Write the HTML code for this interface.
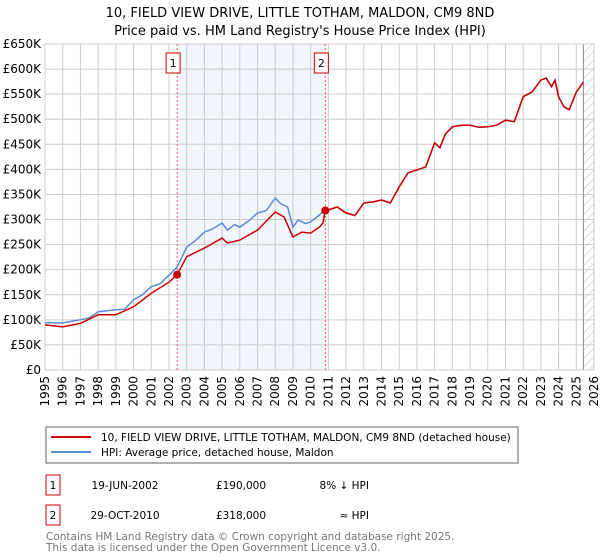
<!DOCTYPE html>
<html><head><meta charset="utf-8"><style>
body{margin:0;background:#fff;font-family:"DejaVu Sans","Liberation Sans",sans-serif;}
svg{display:block}
</style></head><body>
<svg id="c" width="600" height="560" xmlns="http://www.w3.org/2000/svg">
<defs><pattern id="hatch" width="6" height="6" patternUnits="userSpaceOnUse" patternTransform="rotate(45)"><line x1="0" y1="0" x2="0" y2="6" stroke="#bbb" stroke-width="1"/></pattern></defs>
<text x="300" y="17" text-anchor="middle" font-size="13" fill="#000">10, FIELD VIEW DRIVE, LITTLE TOTHAM, MALDON, CM9 8ND</text>
<text x="300" y="35" text-anchor="middle" font-size="13" fill="#000">Price paid vs. HM Land Registry's House Price Index (HPI)</text>
<g id="plot"></g>
<rect x="46" y="427" width="472" height="36" fill="#fff" stroke="#666"/>
<line x1="51" y1="437" x2="91" y2="437" stroke="#cc0000" stroke-width="2"/>
<text x="101" y="441" font-size="10.5">10, FIELD VIEW DRIVE, LITTLE TOTHAM, MALDON, CM9 8ND (detached house)</text>
<line x1="51" y1="452" x2="91" y2="452" stroke="#5b8bd0" stroke-width="2"/>
<text x="101" y="456" font-size="10.5">HPI: Average price, detached house, Maldon</text>
<g>
<rect x="46" y="475" width="14" height="20" fill="#fff" stroke="#cc0000"/>
<text x="53" y="489" font-size="10.5" text-anchor="middle">1</text>
<text x="125" y="489" font-size="10.5" text-anchor="middle">19-JUN-2002</text>
<text x="241" y="489" font-size="10.5" text-anchor="middle">£190,000</text>
<text x="369" y="489" font-size="10.5" text-anchor="end">8% ↓ HPI</text></g>
<g>
<rect x="46" y="505" width="14" height="20" fill="#fff" stroke="#cc0000"/>
<text x="53" y="519" font-size="10.5" text-anchor="middle">2</text>
<text x="125" y="519" font-size="10.5" text-anchor="middle">29-OCT-2010</text>
<text x="241" y="519" font-size="10.5" text-anchor="middle">£318,000</text>
<text x="369" y="519" font-size="10.5" text-anchor="end">≈ HPI</text></g>
<text x="46" y="540" font-size="10.5" fill="#777">Contains HM Land Registry data © Crown copyright and database right 2025.</text>
<text x="46" y="551" font-size="10.5" fill="#777">This data is licensed under the Open Government Licence v3.0.</text>
</svg>
<script>
const yTicks=[0,50,100,150,200,250,300,350,400,450,500,550,600,650];
const yLabels=["£0","£50K","£100K","£150K","£200K","£250K","£300K","£350K","£400K","£450K","£500K","£550K","£600K","£650K"];
const years=[1995,1996,1997,1998,1999,2000,2001,2002,2003,2004,2005,2006,2007,2008,2009,2010,2011,2012,2013,2014,2015,2016,2017,2018,2019,2020,2021,2022,2023,2024,2025,2026];
const hpiT=[1995,1996,1997,1997.5,1998,1998.5,1999,1999.5,2000,2000.5,2001,2001.5,2002,2002.46,2003,2003.5,2004,2004.5,2005,2005.3,2005.7,2006,2006.5,2007,2007.5,2008,2008.3,2008.7,2009,2009.3,2009.7,2010,2010.5,2010.83];
const hpiV=[94,94,100,104,116,118,120,121,140,150,166,172,189,205,245,258,275,282,293,279,290,285,297,313,318,343,332,325,285,299,292,295,309,322];
const propT=[1995,1996,1997,1998,1999,2000,2001,2002,2002.46,2003,2004,2005,2005.3,2006,2007,2008,2008.5,2009,2009.5,2010,2010.5,2010.7,2010.83];
const propV=[90,86,93,110,110,126,153,175,190,226,243,263,253,259,279,315,305,265,275,273,285,293,318];
const lateT=[2011,2011.5,2012,2012.5,2013,2013.5,2014,2014.5,2015,2015.5,2016,2016.5,2017,2017.3,2017.6,2018,2018.5,2019,2019.5,2020,2020.5,2021,2021.5,2022,2022.5,2023,2023.3,2023.6,2023.8,2024,2024.3,2024.6,2025,2025.4];
const lateV=[319,325,313,308,333,335,339,333,365,393,399,405,453,443,470,485,488,488,484,485,488,498,495,545,554,578,582,565,578,545,525,519,554,574];
const saleT=[2002.46,2010.83];
const saleV=[190,318];
const L=45,R=594,T=44,B=370;
const x=t=>L+(t-1995)*(R-L)/31;
const y=v=>B-v*(B-T)/650;
const NS="http://www.w3.org/2000/svg";
const g=document.getElementById('plot');
function mk(tag,a){const e=document.createElementNS(NS,tag);for(const k in a)e.setAttribute(k,a[k]);g.appendChild(e);return e;}
let e;
e=mk('rect',{x:x(saleT[0]),y:T,width:x(saleT[1])-x(saleT[0]),height:B-T,fill:'#eef2fb',opacity:0.8});


e=mk('rect',{x:x(2025.4),y:T,width:R-x(2025.4),height:B-T,fill:'url(#hatch)'});


yTicks.forEach((v,i)=>{
 e=mk('line',{x1:L,x2:R,y1:y(v),y2:y(v),stroke:'#ccc'});
 
 
 e=mk('text',{x:L-4,y:y(v)+4,'text-anchor':'end','font-size':12});
 e.textContent=yLabels[i];
 
 
});
years.forEach(yr=>{
 e=mk('line',{x1:x(yr),x2:x(yr),y1:T,y2:B,stroke:'#ccc'});
 
 
 e=mk('text',{x:0,y:0,'text-anchor':'end','font-size':12,transform:`translate(${x(yr)+4},${B+6}) rotate(-90)`});
 e.textContent=yr;
 
 
});
e=mk('line',{x1:x(2025.4),x2:x(2025.4),y1:T,y2:B,stroke:'#888'});


e=mk('rect',{x:L,y:T,width:R-L,height:B-T,fill:'none',stroke:'#ccc'});


saleT.forEach((t,i)=>{
 e=mk('line',{x1:x(t),x2:x(t),y1:T,y2:B,stroke:'#f06060','stroke-dasharray':'2,2'});
 
 
 e=mk('rect',{x:x(t)-11,y:53,width:14,height:20,fill:'#fff',stroke:'#cc0000'});
 
 
 e=mk('text',{x:x(t)-4,y:67,'text-anchor':'middle','font-size':11});
 e.textContent=String(i+1);
 
 
});
const pts=(ts,vs)=>ts.map((t,i)=>x(t).toFixed(1)+','+y(vs[i]).toFixed(1)).join(' ');
e=mk('polyline',{points:pts(hpiT.concat(lateT),hpiV.concat(lateV)),fill:'none',stroke:'#5b8bd0','stroke-width':1.5});


e=mk('polyline',{points:pts(propT.concat(lateT),propV.concat(lateV)),fill:'none',stroke:'#cc0000','stroke-width':1.5});


saleT.forEach((t,i)=>{
 e=mk('circle',{cx:x(t),cy:y(saleV[i]),r:4,fill:'#cc0000'});
 
 
});
</script>
</body></html>
